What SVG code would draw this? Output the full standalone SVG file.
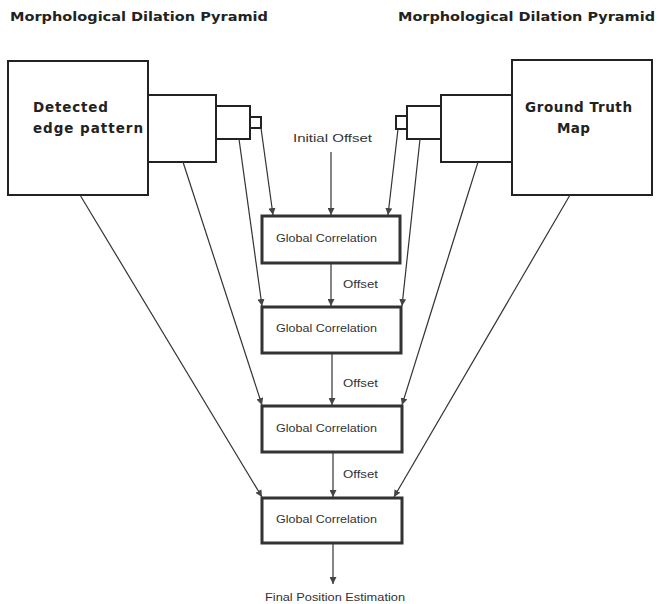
<svg xmlns="http://www.w3.org/2000/svg" width="659" height="604" viewBox="0 0 659 604">
<style>
.title{font-family:"DejaVu Sans",sans-serif;font-weight:bold;font-size:12px;fill:#222}
.big{font-family:"DejaVu Sans",sans-serif;font-weight:bold;font-size:13.5px;fill:#222}
.sm{font-family:"Liberation Sans",Arial,sans-serif;font-size:10.5px;fill:#333}
.pyr{fill:#fff;stroke:#222;stroke-width:2}
.gc{fill:#fff;stroke:#333;stroke-width:3}
.conn line{stroke:#333;stroke-width:1.2}
</style>
<defs>
<marker id="ah" viewBox="0 0 10 10" refX="10" refY="5" markerWidth="7" markerHeight="7" orient="auto" markerUnits="userSpaceOnUse">
<path d="M0,0 L10,5 L0,10 z" fill="#444"/>
</marker>
</defs>
<rect width="659" height="604" fill="#fff"/>
<text class="title" x="10" y="21" textLength="258" lengthAdjust="spacingAndGlyphs">Morphological Dilation Pyramid</text>
<text class="title" x="398" y="21" textLength="257" lengthAdjust="spacingAndGlyphs">Morphological Dilation Pyramid</text>

<g id="left-pyramid">
<rect class="pyr" x="8" y="61" width="140" height="134"/>
<rect class="pyr" x="148" y="95" width="68" height="67"/>
<rect class="pyr" x="216" y="106" width="34" height="33"/>
<rect class="pyr" x="250" y="117" width="11" height="11"/>
<text class="big" x="33" y="112" textLength="75" lengthAdjust="spacing">Detected</text>
<text class="big" x="33" y="133" textLength="110" lengthAdjust="spacing">edge pattern</text>
</g>
<g id="right-pyramid">
<rect class="pyr" x="512" y="60" width="140" height="135"/>
<rect class="pyr" x="441" y="95" width="71" height="67"/>
<rect class="pyr" x="407" y="106" width="34" height="33"/>
<rect class="pyr" x="396" y="116" width="11" height="13"/>
<text class="big" x="525" y="112" textLength="107" lengthAdjust="spacing">Ground Truth</text>
<text class="big" x="557" y="133" textLength="33" lengthAdjust="spacing">Map</text>
</g>

<g id="gc1"><rect class="gc" x="262" y="216" width="138" height="47"/><text class="sm" x="276" y="242" textLength="101" lengthAdjust="spacingAndGlyphs">Global Correlation</text></g>
<g id="gc2"><rect class="gc" x="262" y="307" width="139" height="46"/><text class="sm" x="276" y="332" textLength="101" lengthAdjust="spacingAndGlyphs">Global Correlation</text></g>
<g id="gc3"><rect class="gc" x="262" y="406" width="140" height="46"/><text class="sm" x="276" y="432" textLength="101" lengthAdjust="spacingAndGlyphs">Global Correlation</text></g>
<g id="gc4"><rect class="gc" x="262" y="498" width="140" height="45"/><text class="sm" x="276" y="523" textLength="101" lengthAdjust="spacingAndGlyphs">Global Correlation</text></g>

<g id="labels">
<text class="sm" x="293" y="142" textLength="79" lengthAdjust="spacingAndGlyphs">Initial Offset</text>
<text class="sm" x="343" y="288" textLength="35" lengthAdjust="spacingAndGlyphs">Offset</text>
<text class="sm" x="343" y="387" textLength="35" lengthAdjust="spacingAndGlyphs">Offset</text>
<text class="sm" x="343" y="478" textLength="35" lengthAdjust="spacingAndGlyphs">Offset</text>
<text class="sm" x="265" y="601" textLength="140" lengthAdjust="spacingAndGlyphs">Final Position Estimation</text>
</g>

<g id="connectors" class="conn">
<line x1="331" y1="152" x2="331" y2="215" marker-end="url(#ah)"/>
<line x1="261" y1="128" x2="273" y2="215" marker-end="url(#ah)"/>
<line x1="398" y1="129" x2="388" y2="215" marker-end="url(#ah)"/>
<line x1="331" y1="264" x2="331" y2="306" marker-end="url(#ah)"/>
<line x1="239" y1="139" x2="262" y2="306" marker-end="url(#ah)"/>
<line x1="420" y1="139" x2="402" y2="306" marker-end="url(#ah)"/>
<line x1="332" y1="354" x2="332" y2="405" marker-end="url(#ah)"/>
<line x1="183" y1="162" x2="262" y2="405" marker-end="url(#ah)"/>
<line x1="478" y1="162" x2="402" y2="405" marker-end="url(#ah)"/>
<line x1="333" y1="453" x2="333" y2="497" marker-end="url(#ah)"/>
<line x1="80" y1="195" x2="262" y2="497" marker-end="url(#ah)"/>
<line x1="570" y1="195" x2="394" y2="497" marker-end="url(#ah)"/>
<line x1="333" y1="544" x2="333" y2="584" marker-end="url(#ah)"/>
</g>
</svg>
